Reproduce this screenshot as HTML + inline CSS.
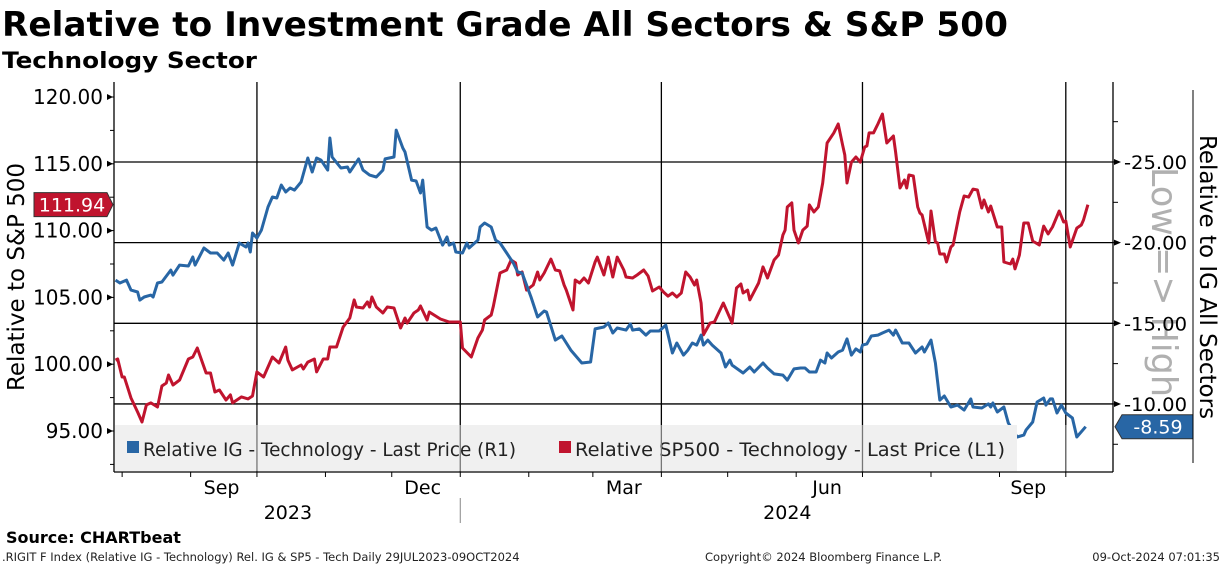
<!DOCTYPE html>
<html><head><meta charset="utf-8"><style>
html,body{margin:0;padding:0;background:#fff;}
svg{display:block;font-family:"DejaVu Sans","Liberation Sans",sans-serif;}
</style></head><body>
<svg id="chart" width="1224" height="566" viewBox="0 0 1224 566">
<text x="2" y="36" font-size="34" font-weight="bold" textLength="1006" lengthAdjust="spacingAndGlyphs">Relative to Investment Grade All Sectors &amp; S&amp;P 500</text>
<text x="2" y="68" font-size="22" font-weight="bold" textLength="255" lengthAdjust="spacingAndGlyphs">Technology Sector</text>
<g id="grid"></g>
<g id="series"></g>
<g id="legend">
<rect x="115" y="425" width="902" height="46" fill="#f0f0f0"/>
<rect x="127" y="441" width="12" height="12" fill="#2866a5"/>
<text x="143" y="456" font-size="19" fill="#222" textLength="373" lengthAdjust="spacingAndGlyphs">Relative IG - Technology - Last Price (R1)</text>
<rect x="559" y="441" width="12" height="12" fill="#c0142e"/>
<text x="575" y="456" font-size="19" fill="#222" textLength="430" lengthAdjust="spacingAndGlyphs">Relative SP500 - Technology - Last Price (L1)</text>
</g>
<g id="overlay"></g>
<text transform="translate(1152,282) rotate(90)" text-anchor="middle" font-size="36" fill="#b0b0b0" textLength="230" lengthAdjust="spacingAndGlyphs">Low =&gt; High</text>
<g id="axes"></g>
<text transform="translate(24,277) rotate(-90)" text-anchor="middle" font-size="23">Relative to S&amp;P 500</text>
<text transform="translate(1200,277) rotate(90)" text-anchor="middle" font-size="23">Relative to IG All Sectors</text>
<line x1="1193" y1="90" x2="1193" y2="463" stroke="#000" stroke-width="1"/>
<text x="6" y="543" font-size="16" font-weight="bold">Source: CHARTbeat</text>
<text x="2" y="561" font-size="11.5" fill="#222">.RIGIT F Index (Relative IG - Technology) Rel. IG &amp; SP5 - Tech  Daily 29JUL2023-09OCT2024</text>
<text x="705" y="561" font-size="11.5" fill="#222">Copyright© 2024 Bloomberg Finance L.P.</text>
<text x="1220" y="561" font-size="11.5" fill="#222" text-anchor="end">09-Oct-2024 07:01:35</text>
</svg>
<script>
// days since 29 Jul 2023
const blueDays=[0,2,5,7,10,11,13,16,17,19,21,25,26,29,33,35,36,40,43,46,49,51,53,56,59,60,61,62,64,66,69,71,73,75,77,79,81,84,87,89,91,93,96,97,98,102,105,106,110,112,115,118,121,122,126,127,130,131,134,136,138,139,141,143,145,148,150,151,153,154,157,159,160,164,165,167,170,172,174,177,180,182,184,188,191,194,195,199,202,206,211,215,217,221,223,225,227,231,233,234,237,240,242,246,249,252,254,257,259,261,263,265,266,268,270,274,276,278,279,284,287,289,293,295,298,302,304,307,310,312,314,317,319,321,322,324,327,329,331,333,335,337,338,340,342,345,347,350,352,353,356,359,362,365,366,369,371,373,375,378,381,384,387,388,392,395,396,397,399,402,404,408,411,412,415,417,420,421,423,424,426,428,430,433,435,439];
const blueValues=[-17.68,-17.50,-17.68,-17.06,-16.94,-16.44,-16.63,-16.75,-16.63,-17.50,-17.56,-18.30,-17.99,-18.61,-18.55,-19.11,-18.61,-19.67,-19.36,-19.36,-18.92,-19.36,-18.61,-19.98,-19.73,-19.98,-19.42,-20.60,-20.29,-20.78,-22.21,-22.83,-22.77,-23.57,-23.14,-23.39,-23.26,-23.76,-25.25,-24.38,-25.25,-25.12,-24.50,-26.49,-25.31,-24.63,-24.69,-24.38,-25.19,-24.50,-24.19,-24.07,-24.50,-25.19,-25.31,-26.98,-25.87,-25.62,-23.88,-23.82,-23.08,-23.88,-20.97,-20.78,-20.91,-19.85,-20.35,-19.85,-19.98,-19.42,-19.36,-19.98,-19.67,-20.16,-20.97,-21.22,-20.97,-20.16,-19.98,-19.36,-18.74,-18.18,-18.12,-16.63,-15.39,-15.76,-15.70,-13.96,-14.21,-13.34,-12.54,-12.60,-14.65,-14.77,-15.02,-14.40,-14.71,-14.58,-14.96,-14.58,-14.65,-14.27,-14.52,-14.52,-14.89,-13.16,-13.78,-13.03,-13.34,-13.78,-13.65,-14.27,-13.65,-13.96,-13.65,-13.16,-12.29,-12.72,-12.41,-11.92,-12.29,-11.98,-12.54,-12.23,-11.86,-11.79,-11.48,-12.17,-12.23,-12.23,-11.98,-11.98,-12.72,-12.54,-13.16,-12.85,-13.22,-13.34,-14.03,-13.03,-13.41,-13.22,-13.65,-13.72,-14.21,-14.27,-14.40,-14.58,-14.27,-14.58,-13.78,-13.78,-13.16,-13.53,-13.22,-13.96,-12.54,-10.24,-10.49,-9.81,-9.93,-9.62,-10.31,-9.81,-9.75,-10.00,-9.81,-10.06,-9.50,-9.81,-8.82,-7.95,-8.07,-8.38,-8.88,-10.12,-10.37,-9.93,-10.31,-10.31,-9.44,-9.93,-9.44,-9.13,-7.95,-8.59];
const redDays=[0,1,3,4,7,10,12,14,16,19,21,23,24,26,29,33,35,37,41,43,45,47,50,52,53,57,60,62,64,67,71,74,77,78,80,84,85,87,90,91,94,96,97,100,103,106,108,109,112,114,115,116,118,121,123,126,129,131,132,135,137,138,141,142,147,151,156,157,161,164,166,167,170,171,174,177,179,181,182,184,186,189,191,192,194,197,199,201,203,204,207,208,210,212,214,217,218,221,223,225,227,230,231,234,236,239,241,243,246,248,250,252,254,256,258,260,262,263,265,266,269,271,275,279,281,283,284,286,287,291,293,295,298,300,302,303,304,306,307,309,311,313,314,316,318,320,322,325,327,329,330,331,333,335,337,339,340,341,343,345,347,349,352,353,355,357,358,359,361,363,364,365,368,369,371,372,373,375,376,378,379,382,384,386,388,390,392,393,395,396,399,401,402,405,406,407,409,411,413,415,418,420,422,424,427,429,430,432,435,437,438,440];
const redValues=[100.31,100.39,99.04,99.04,97.47,96.42,95.67,96.95,97.10,96.80,98.37,98.59,99.19,98.44,98.82,100.39,100.54,101.21,99.34,99.34,97.92,98.07,97.32,97.70,97.10,97.55,97.40,97.62,99.42,99.04,100.54,100.09,101.29,100.31,99.57,99.94,99.64,100.16,100.39,99.42,100.39,100.39,101.29,101.29,102.78,103.46,104.81,104.28,104.21,104.66,104.28,105.03,104.28,103.83,104.28,104.21,102.71,103.46,103.08,103.83,104.06,104.36,103.31,103.91,103.38,103.16,103.16,101.21,100.54,101.96,102.56,103.31,103.68,104.36,106.83,107.05,107.80,107.58,106.68,106.90,105.55,105.93,106.90,106.30,106.83,107.87,107.05,106.98,105.93,105.55,104.06,106.30,106.08,106.45,106.08,107.65,108.02,106.68,108.02,106.53,108.02,107.05,106.53,106.45,106.68,107.05,106.60,105.48,105.78,105.40,105.10,105.33,105.03,105.33,106.90,106.53,105.93,106.30,104.58,102.19,103.08,103.16,104.58,103.08,105.70,106.00,105.33,105.55,104.81,106.08,107.28,106.45,107.80,108.17,109.67,110.04,111.77,112.07,110.04,109.07,110.04,110.34,111.92,111.39,111.77,113.56,116.56,117.31,117.98,116.41,115.66,113.56,115.13,115.51,115.13,116.26,116.33,117.31,117.31,117.98,118.73,116.56,117.08,115.88,113.19,113.79,113.19,114.16,114.09,111.77,111.32,111.17,109.07,111.47,109.15,109.07,108.25,108.25,107.65,108.77,108.92,111.39,112.59,112.51,113.11,113.04,111.69,112.29,111.39,111.84,110.27,110.27,107.65,107.50,107.87,107.13,108.17,110.57,110.57,109.22,108.92,110.34,109.75,110.27,111.47,110.64,110.72,108.77,110.19,110.42,110.79,111.94];
const leftTicks=[95,100,105,110,115,120];
const rightTicks=[-25,-20,-15,-10];
const monthLabels=["Sep","Dec","Mar","Jun","Sep"];
const monthLabelDays=[48,139,230,322,413];
const quarterDays=[64,156,247,338,430];
const monthTickDays=[3,34,64,95,125,156,187,216,247,277,308,338,369,400,430];
const yearLabels=["2023","2024"];
const yearLabelDays=[78,304];

const NS="http://www.w3.org/2000/svg";
const X0=114,X1=1113,Y0=82,Y1=472;
const xS=d=>115.5+d*2.21;
const yL=v=>97+(120-v)*13.36;
const yR=v=>162+(v+25)*16.13;
function mk(tag,attrs,parent){const e=document.createElementNS(NS,tag);for(const k in attrs)e.setAttribute(k,attrs[k]);parent.appendChild(e);return e;}
const grid=document.getElementById('grid'),ser=document.getElementById('series'),ov=document.getElementById('overlay'),ax=document.getElementById('axes');

rightTicks.forEach(v=>{const l=mk('line',{x1:X0,x2:X1,y1:yR(v),y2:yR(v),stroke:'#000','stroke-width':1.3},grid);

});
quarterDays.forEach(d=>{const l=mk('line',{x1:xS(d),x2:xS(d),y1:Y0,y2:Y1,stroke:'#000','stroke-width':1.3},grid);


const o=mk('line',{x1:xS(d),x2:xS(d),y1:425,y2:Y1,stroke:'#777','stroke-width':1.3},ov);

});

function path(days,vals,ys,color,name){let s='';days.forEach((d,i)=>{s+=(i?'L':'M')+xS(d).toFixed(1)+','+ys(vals[i]).toFixed(1);});
const p=mk('path',{d:s,fill:'none',stroke:color,'stroke-width':3,'stroke-linejoin':'round'},ser);

}
path(redDays,redValues,yL,'#c0142e','sp500-relative-line');
path(blueDays,blueValues,yR,'#2866a5','ig-relative-line');

mk('line',{x1:X0,x2:X0,y1:Y0,y2:Y1,stroke:'#000','stroke-width':1.3},ax);
mk('line',{x1:X1,x2:X1,y1:Y0,y2:Y1,stroke:'#000','stroke-width':1.3},ax);
mk('line',{x1:X0,x2:X1,y1:Y1,y2:Y1,stroke:'#000','stroke-width':1.3},ax);
for(let v=92.5;v<=120;v+=2.5){mk('line',{x1:X0-4,x2:X0,y1:yL(v),y2:yL(v),stroke:'#000'},ax);}
leftTicks.forEach(v=>{mk('path',{d:`M${X0-7},${yL(v)-3}L${X0-1},${yL(v)}L${X0-7},${yL(v)+3}Z`},ax);
const t=mk('text',{x:103,y:yL(v)+7,'font-size':20,'text-anchor':'end'},ax);t.textContent=v.toFixed(2);

});
for(let v=-30;v<=-7.5;v+=2.5){const y=yR(v);if(y<Y0||y>Y1)continue;mk('line',{x1:X1,x2:X1+5,y1:y,y2:y,stroke:'#000'},ax);}
rightTicks.forEach(v=>{mk('path',{d:`M${X1+1},${yR(v)-3}L${X1+8},${yR(v)}L${X1+1},${yR(v)+3}Z`},ax);
const t=mk('text',{x:1124,y:yR(v)+7,'font-size':19,textLength:63,lengthAdjust:'spacingAndGlyphs'},ax);t.textContent=v.toFixed(2);

});
monthTickDays.forEach(d=>mk('line',{x1:xS(d),x2:xS(d),y1:Y1,y2:Y1+5,stroke:'#000'},ax));
monthLabels.forEach((m,i)=>{const t=mk('text',{x:xS(monthLabelDays[i]),y:494,'font-size':19,'text-anchor':'middle'},ax);t.textContent=m;

});
yearLabels.forEach((m,i)=>{const t=mk('text',{x:xS(yearLabelDays[i]),y:519,'font-size':19,'text-anchor':'middle'},ax);t.textContent=m;

});
mk('line',{x1:xS(156),x2:xS(156),y1:498,y2:523,stroke:'#888'},ax);

const rv=redValues[redValues.length-1],ry=yL(rv);
const rt=mk('path',{d:`M34,${ry-12}L107,${ry-12}L113,${ry}L107,${ry+12}L34,${ry+12}Z`,fill:'#c0142e',stroke:'#333'},ax);


const rtt=mk('text',{x:72,y:ry+7,'font-size':19,fill:'#fff','text-anchor':'middle'},ax);rtt.textContent=rv.toFixed(2);
const bv=blueValues[blueValues.length-1],by=yR(bv);
const bt=mk('path',{d:`M1115,${by}L1122,${by-12}L1193,${by-12}L1193,${by+12}L1122,${by+12}Z`,fill:'#2866a5',stroke:'#333'},ax);


const btt=mk('text',{x:1158,y:by+7,'font-size':19,fill:'#fff','text-anchor':'middle'},ax);btt.textContent=bv.toFixed(2);
</script>
</body></html>
